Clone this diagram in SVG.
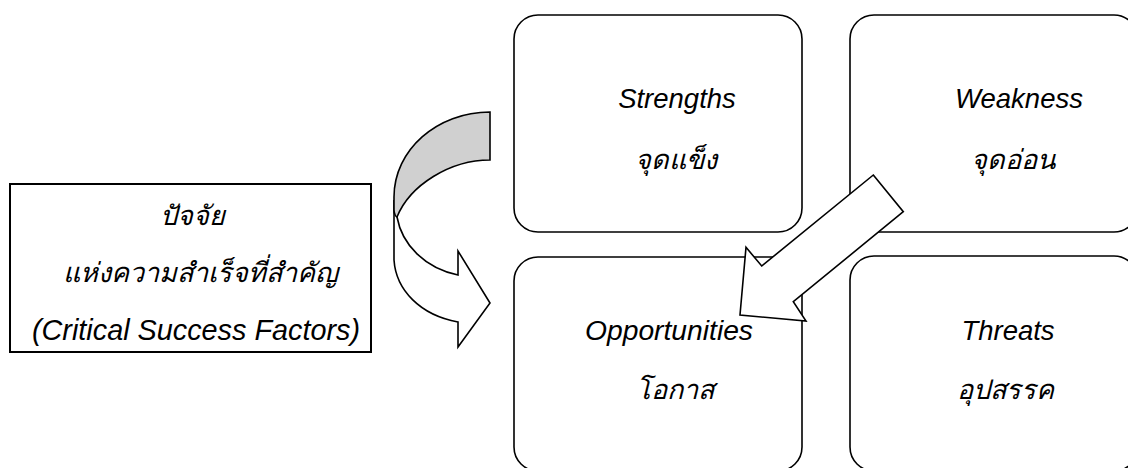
<svg xmlns="http://www.w3.org/2000/svg" width="1128" height="468" viewBox="0 0 1128 468">
  <style>
    .box { fill: #ffffff; stroke: #000000; stroke-width: 1.6; }
    .lbox { fill: #ffffff; stroke: #000000; stroke-width: 2; }
    .t { font-family: "Liberation Sans", Arial, sans-serif; font-style: italic; font-size: 27.5px; fill: #000000; text-anchor: middle; }
    .tl { font-size: 28.8px; }
    .th { font-family: "Liberation Sans", "Noto Sans", sans-serif; font-style: italic; font-size: 27px; fill: #000000; text-anchor: middle; }
    .arrow { fill: #ffffff; stroke: #000000; stroke-width: 1.6; stroke-linejoin: miter; }
    .back { fill: #d0d0d0; stroke: #000000; stroke-width: 1.6; }
  </style>
  <rect width="1128" height="468" fill="#ffffff"/>

  <g id="csf">
    <rect class="lbox" x="10" y="184" width="361" height="168"/>
    <text class="th" x="192" y="225">ปัจจัย</text>
    <text class="th" x="200" y="282">แห่งความสำเร็จที่สำคัญ</text>
    <text class="t tl" x="196" y="340">(Critical Success Factors)</text>
  </g>

  <g id="strengths">
    <rect class="box" x="514" y="15" width="288" height="217" rx="24" ry="24"/>
    <text class="t" x="677" y="108">Strengths</text>
    <text class="th" x="676" y="169">จุดแข็ง</text>
  </g>

  <g id="weakness">
    <rect class="box" x="850" y="15" width="288" height="217" rx="24" ry="24"/>
    <text class="t" x="1019" y="108">Weakness</text>
    <text class="th" x="1013" y="169">จุดอ่อน</text>
  </g>

  <g id="opportunities">
    <rect class="box" x="514" y="257" width="288" height="214" rx="24" ry="24"/>
    <text class="t" x="669" y="340" textLength="168" lengthAdjust="spacingAndGlyphs">Opportunities</text>
    <text class="th" x="675" y="399">โอกาส</text>
  </g>

  <g id="threats">
    <rect class="box" x="850" y="256" width="288" height="215" rx="24" ry="24"/>
    <text class="t" x="1008" y="340">Threats</text>
    <text class="th" x="1005" y="399">อุปสรรค</text>
  </g>

  <g id="connectors">
    <path class="arrow" d="M394,200 L394,260 C396,290 420,315 458,322 L458,347 L490,303 L458,251 L458,275 C425,268 402,245 397,217 Z"/>
    <path class="back" d="M490,112 C437,112 394,150 394,197 L394,210 C394,214 396,217 397,217 C410,185 450,160 490,160 Z"/>
    <polygon class="arrow" points="873.3,175 903.3,211.7 793.3,301.7 806,321 740,315 746,247.3 761.7,266"/>
  </g>
</svg>
